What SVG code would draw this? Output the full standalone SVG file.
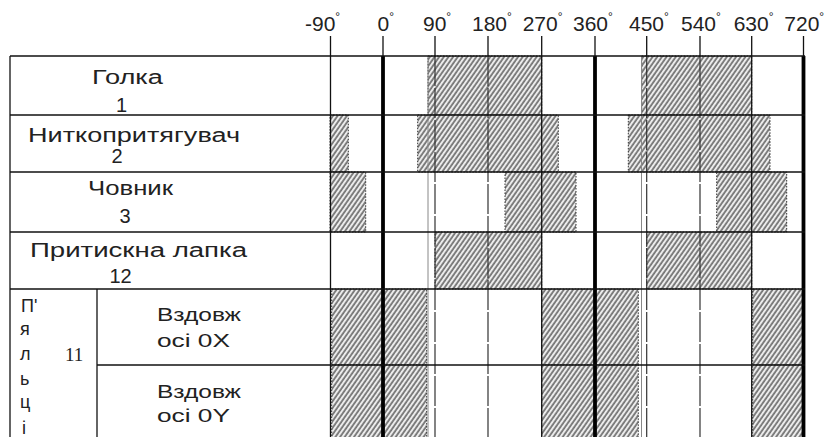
<svg xmlns="http://www.w3.org/2000/svg" width="829" height="437" viewBox="0 0 829 437">
<defs>
<pattern id="hatch" width="3.8" height="12" patternUnits="userSpaceOnUse" patternTransform="rotate(35)">
<rect width="3.8" height="12" fill="#ececec"/>
<line x1="1" y1="0" x2="1" y2="12" stroke="#555" stroke-width="1.4"/>
</pattern>
</defs>
<style>
text{font-family:"Liberation Sans",Arial,sans-serif;fill:#222}
.hdr{font-size:21px}
.lbl{font-size:20px}
.sm{font-size:18px}
.deg{font-size:12px}
.ser{font-family:"Liberation Serif","Times New Roman",serif;font-size:19px}
.h{fill:url(#hatch);stroke:#333;stroke-width:1;stroke-dasharray:1.5 1.5}
.g{stroke:#111;stroke-width:1.3;fill:none}
.gd{stroke:#333;stroke-width:1.2;stroke-dasharray:30 2;fill:none}
.gb{stroke:#000;stroke-width:3.8;fill:none}
.ge{stroke:#888;stroke-width:1;fill:none}
</style>
<rect width="829" height="437" fill="#fff"/>

<g id="hatches">
<rect class="h" x="428" y="56" width="113.7" height="59"/>
<rect class="h" x="641.7" y="56" width="110" height="59"/>
<rect class="h" x="330" y="115" width="18.3" height="57"/>
<rect class="h" x="417.7" y="115" width="140.6" height="57"/>
<rect class="h" x="628.3" y="115" width="141.7" height="57"/>
<rect class="h" x="330" y="172" width="35.7" height="60"/>
<rect class="h" x="505" y="172" width="71" height="60"/>
<rect class="h" x="716.7" y="172" width="70" height="60"/>
<rect class="h" x="435" y="232" width="106.7" height="57"/>
<rect class="h" x="646.7" y="232" width="105" height="57"/>
<rect class="h" x="331.7" y="289" width="95" height="76"/>
<rect class="h" x="541.7" y="289" width="96.6" height="76"/>
<rect class="h" x="752.7" y="289" width="50.3" height="76"/>
<rect class="h" x="331.7" y="365" width="95" height="74"/>
<rect class="h" x="541.7" y="365" width="96.6" height="74"/>
<rect class="h" x="752.7" y="365" width="50.3" height="74"/>
</g>

<g id="grid">
<line class="ge" x1="428" y1="56" x2="428" y2="437"/>
<line class="ge" x1="641.5" y1="56" x2="641.5" y2="437"/>
<line class="g" x1="330.5" y1="36" x2="330.5" y2="437"/>
<line class="g" x1="383" y1="36" x2="383" y2="56"/>
<line class="gb" x1="383" y1="56" x2="383" y2="437"/>
<line class="g" x1="435" y1="36" x2="435" y2="56"/>
<line class="gd" x1="435" y1="56" x2="435" y2="437"/>
<line class="g" x1="488" y1="36" x2="488" y2="56"/>
<line class="gd" x1="488" y1="56" x2="488" y2="437"/>
<line class="g" x1="541.7" y1="36" x2="541.7" y2="437"/>
<line class="g" x1="595" y1="36" x2="595" y2="56"/>
<line class="gb" x1="595" y1="56" x2="595" y2="437"/>
<line class="g" x1="646.7" y1="36" x2="646.7" y2="56"/>
<line class="gd" x1="646.7" y1="56" x2="646.7" y2="437"/>
<line class="g" x1="700" y1="36" x2="700" y2="56"/>
<line class="gd" x1="700" y1="56" x2="700" y2="437"/>
<line class="g" x1="751.7" y1="36" x2="751.7" y2="437"/>
<line class="g" x1="803.5" y1="36" x2="803.5" y2="56"/>
<line class="gb" x1="803.5" y1="56" x2="803.5" y2="437"/>
<line class="g" x1="10" y1="56" x2="805" y2="56"/>
<line class="g" x1="10" y1="115" x2="805" y2="115"/>
<line class="g" x1="10" y1="172" x2="805" y2="172"/>
<line class="g" x1="10" y1="232" x2="805" y2="232"/>
<line class="g" x1="10" y1="289" x2="805" y2="289"/>
<line class="g" x1="97" y1="365" x2="805" y2="365"/>
<line class="g" x1="10" y1="56" x2="10" y2="437"/>
<line class="g" x1="97" y1="289" x2="97" y2="437"/>
</g>

<g id="header">
<text class="hdr" x="305" y="31">-90<tspan class="deg" dy="-10">°</tspan></text>
<text class="hdr" x="377.6" y="31">0<tspan class="deg" dy="-10">°</tspan></text>
<text class="hdr" x="423" y="31">90<tspan class="deg" dy="-10">°</tspan></text>
<text class="hdr" x="472" y="31">180<tspan class="deg" dy="-10">°</tspan></text>
<text class="hdr" x="522.7" y="31">270<tspan class="deg" dy="-10">°</tspan></text>
<text class="hdr" x="573" y="31">360<tspan class="deg" dy="-10">°</tspan></text>
<text class="hdr" x="629" y="31">450<tspan class="deg" dy="-10">°</tspan></text>
<text class="hdr" x="681" y="31">540<tspan class="deg" dy="-10">°</tspan></text>
<text class="hdr" x="733.7" y="31">630<tspan class="deg" dy="-10">°</tspan></text>
<text class="hdr" x="784.3" y="31">720<tspan class="deg" dy="-10">°</tspan></text>
</g>

<g id="row-golka">
<text class="lbl" x="92" y="84" textLength="71" lengthAdjust="spacingAndGlyphs">Голка</text>
<text class="lbl" x="121.5" y="111.5" text-anchor="middle">1</text>
</g>
<g id="row-nytkoprytiahuvach">
<text class="lbl" x="28" y="141.5" textLength="212" lengthAdjust="spacingAndGlyphs">Ниткопритягувач</text>
<text class="lbl" x="117" y="163" text-anchor="middle">2</text>
</g>
<g id="row-chovnyk">
<text class="lbl" x="88" y="195" textLength="85" lengthAdjust="spacingAndGlyphs">Човник</text>
<text class="lbl" x="125" y="223" text-anchor="middle">3</text>
</g>
<g id="row-prytyskna-lapka">
<text class="lbl" x="30" y="257" textLength="217" lengthAdjust="spacingAndGlyphs">Притискна лапка</text>
<text class="lbl" x="120.5" y="283" text-anchor="middle">12</text>
</g>
<g id="row-pialtsi">
<text class="sm"><tspan x="21" y="312">П'</tspan><tspan x="20" y="335">я</tspan><tspan x="20" y="360">л</tspan><tspan x="20" y="385">ь</tspan><tspan x="20" y="408">ц</tspan><tspan x="22" y="434">і</tspan></text>
<text class="ser" x="65" y="361">11</text>
<text class="sm" x="157" y="321" textLength="84" lengthAdjust="spacingAndGlyphs">Вздовж</text>
<text class="sm" x="157" y="347" textLength="73" lengthAdjust="spacingAndGlyphs">осі 0X</text>
<text class="sm" x="157" y="398" textLength="84" lengthAdjust="spacingAndGlyphs">Вздовж</text>
<text class="sm" x="157" y="422" textLength="73" lengthAdjust="spacingAndGlyphs">осі 0Y</text>
</g>
</svg>
